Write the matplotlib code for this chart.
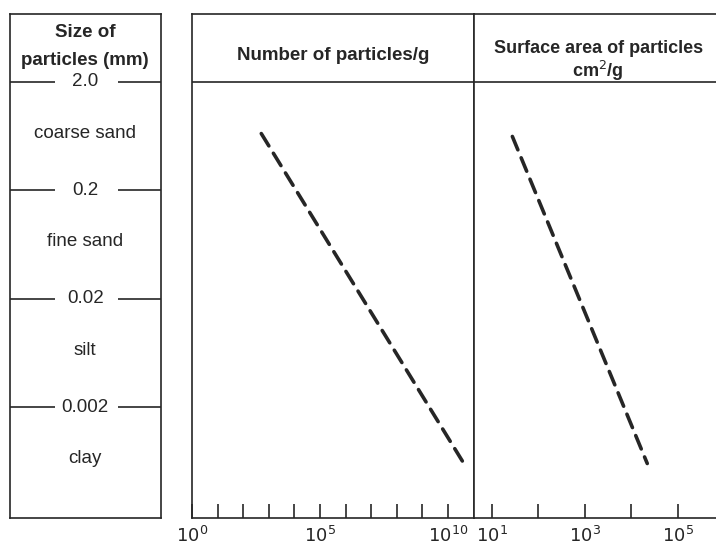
import numpy as np
import matplotlib
matplotlib.use("Agg")
import matplotlib.pyplot as plt
from matplotlib.ticker import NullLocator

plt.rcParams['font.family'] = ['Liberation Sans', 'DejaVu Sans']

# particle size classes (mm), boundaries from coarse to fine
size_bounds = [2.0, 0.2, 0.02, 0.002]
size_bound_labels = ["2.0", "0.2", "0.02", "0.002"]
size_classes = ["coarse sand", "fine sand", "silt", "clay"]

# dashed lines: (particle size mm, value)
number_size = [0.67, 0.00061]
number_per_g = [510, 4.2e10]
area_size = [0.63, 0.00061]
area_cm2_per_g = [28, 2.2e4]

number_ticks = [10**k for k in range(0, 11)]
number_ticklabels = ["$10^{%d}$" % k if k in (0, 5, 10) else "" for k in range(0, 11)]
area_ticks = [10**k for k in range(1, 6)]
area_ticklabels = ["$10^{%d}$" % k if k in (1, 3, 5) else "" for k in range(1, 6)]

W, H = 716, 545
INK = "#262626"
BOLD = 13.5
REG = 13.5


def px_rect(x0, y0, x1, y1):
    return [x0 / W, 1 - y1 / H, (x1 - x0) / W, (y1 - y0) / H]


fig = plt.figure(figsize=(W / 100, H / 100), dpi=100)
ax_size = fig.add_axes(px_rect(9.5, 13.5, 161, 517.5))
ax_num = fig.add_axes(px_rect(192, 14, 473.5, 518))
ax_area = fig.add_axes(px_rect(473.5, 14, 742, 518))

ylim = (10**-3.717, 10**0.928)
for ax in (ax_size, ax_num, ax_area):
    ax.set_yscale("log")
    ax.set_ylim(*ylim)
    ax.yaxis.set_major_locator(NullLocator())
    ax.yaxis.set_minor_locator(NullLocator())
    for sp in ax.spines.values():
        sp.set_color(INK)
        sp.set_linewidth(1.2)

# ---- left column: size classes
ax_size.set_xlim(0, 1)
ax_size.set_xticks([])
trans = ax_size.get_yaxis_transform()
for b, lab in zip(size_bounds, size_bound_labels):
    ax_size.hlines(b, 0, 0.30, color=INK, lw=1.2, transform=trans)
    ax_size.hlines(b, 0.715, 1, color=INK, lw=1.2, transform=trans)
    ax_size.text(0.5, b, lab, ha="center", va="center", fontsize=REG, color=INK, transform=trans)

lower = size_bounds[1:] + [size_bounds[-1] / 10]
for hi, lo, name in zip(size_bounds, lower, size_classes):
    ax_size.text(0.5, np.sqrt(hi * lo) * 1.06, name, ha="center", va="center",
                 fontsize=REG, color=INK, transform=trans)

ax_size.text(0.5, 0.963, "Size of", ha="center", va="center", fontsize=BOLD,
             fontweight="bold", color=INK, transform=ax_size.transAxes)
ax_size.text(0.5, 0.906, "particles (mm)", ha="center", va="center", fontsize=BOLD,
             fontweight="bold", color=INK, transform=ax_size.transAxes)

# ---- number of particles per gram
ax_num.set_xscale("log")
ax_num.set_xlim(1, 1e11)
ax_num.set_xticks(number_ticks)
ax_num.set_xticklabels(number_ticklabels)
ax_num.plot(number_per_g, number_size, color=INK, lw=2.6, dashes=(4, 2.4),
            dash_capstyle="round")
ax_num.axhline(size_bounds[0], color=INK, lw=1.2)
ax_num.text(0.5, 0.918, "Number of particles/g", ha="center", va="center",
            fontsize=BOLD, fontweight="bold", color=INK, transform=ax_num.transAxes)

# ---- surface area (its left spine doubles the divider so it reads as dark as the rest)
ax_area.set_xscale("log")
ax_area.set_xlim(10**0.613, 10**6.376)
ax_area.set_xticks(area_ticks)
ax_area.set_xticklabels(area_ticklabels)
ax_area.plot(area_cm2_per_g, area_size, color=INK, lw=2.6, dashes=(4, 2.4),
             dash_capstyle="round")
ax_area.axhline(size_bounds[0], color=INK, lw=1.2)
ax_area.text(0.466, 0.931, "Surface area of particles", ha="center", va="center",
             fontsize=13, fontweight="bold", color=INK, transform=ax_area.transAxes)
ax_area.text(0.463, 0.887, "cm$^2$/g", ha="center", va="center",
             fontsize=13, fontweight="bold", color=INK, transform=ax_area.transAxes)

for ax in (ax_num, ax_area):
    ax.xaxis.set_minor_locator(NullLocator())
    ax.tick_params(axis="x", direction="in", length=10, width=1.2, color=INK,
                   labelsize=13, labelcolor=INK, pad=6)

fig.savefig("out.png", dpi=100)
